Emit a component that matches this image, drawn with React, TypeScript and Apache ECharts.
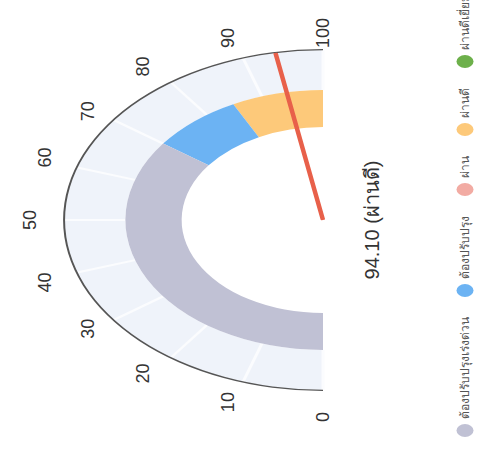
import React, { useEffect, useRef } from 'react';
import * as echarts from 'echarts';

// ---- data ----
const axisMin = 0;
const axisMax = 100;
const axisSplits = 10;
const legendNames = ['ต้องปรับปรุงเร่งด่วน', 'ต้องปรับปรุง', 'ผ่าน', 'ผ่านดี', 'ผ่านดีเยี่ยม'];
const legendColors = ['#c0c1d4', '#6cb3f3', '#f2aba3', '#fdc97a', '#6db04b'];
const bandEnds = [70, 85, 100];
const bandColors = ['#c0c1d4', '#6cb3f3', '#fdc97a'];
const gaugeValue = 94.1;
const gaugeStatus = 'ผ่านดี';

// ---- layout ----
const SX = 1.52; // horizontal stretch of the pictured gauge
const A = { w: 450, h: 316, cx: 230, cy: 212.5 };
const B = { w: 620, h: 477, cx: 230, cy: 323 };
const FONT = '"Liberation Sans", Arial, "Noto Sans", sans-serif';

const hidden = {
  pointer: { show: false },
  anchor: { show: false },
  title: { show: false },
  detail: { show: false },
  axisTick: { show: false },
  splitLine: { show: false, length: 0, distance: 0 },
  axisLabel: { show: false },
  progress: { show: false },
};

export default function App() {
  const refA = useRef<HTMLDivElement>(null);
  const refB = useRef<HTMLDivElement>(null);

  useEffect(() => {
    const a = echarts.init(refA.current!, undefined, { renderer: 'svg' });
    const b = echarts.init(refB.current!, undefined, { renderer: 'svg' });
    const base = {
      type: 'gauge',
      center: [A.cx, A.cy],
      startAngle: 180,
      endAngle: 0,
      min: axisMin,
      max: axisMax,
      splitNumber: axisSplits,
      ...hidden,
      data: [{ value: gaugeValue }],
    };
    a.setOption({
      animation: false,
      textStyle: { fontFamily: FONT },
      series: [
        {
          ...base,
          radius: 170,
          axisLine: { show: true, lineStyle: { width: 40, color: [[1, '#eff3fa']] } },
          splitLine: { show: true, length: 40, distance: -40, lineStyle: { color: '#fbfcfe', width: 2 } },
        },
        {
          ...base,
          radius: 130,
          axisLine: {
            show: true,
            lineStyle: {
              width: 37,
              color: bandEnds.map((e, i) => [(e - axisMin) / (axisMax - axisMin), bandColors[i]]),
            },
          },
        },
        {
          ...base,
          radius: 171,
          axisLine: { show: true, lineStyle: { width: 1.3, color: [[1, '#555555']] } },
          axisLabel: { show: true, distance: -31, fontSize: 18, color: '#333333', fontFamily: FONT },
        },
        {
          ...base,
          radius: 170,
          axisLine: { show: false },
          pointer: {
            show: true,
            icon: 'roundRect',
            length: '100%',
            width: 3,
            offsetCenter: [0, 0],
            itemStyle: { color: '#e8604a' },
          },
        },
      ],
    });

    const legendSeries = legendNames.map((n, i) => ({
      type: 'gauge',
      name: n,
      center: [-500, -500],
      radius: 1,
      itemStyle: { color: legendColors[i] },
      axisLine: { show: false },
      ...hidden,
      data: [],
    }));
    b.setOption({
      animation: false,
      textStyle: { fontFamily: FONT },
      legend: {
        left: 8,
        top: 451.5,
        orient: 'horizontal',
        itemWidth: 13,
        itemHeight: 17,
        itemGap: 20,
        selectedMode: false,
        symbolKeepAspect: false,
        icon: 'path://M50 0A50 50 0 1 1 50 100A50 50 0 1 1 50 0Z',
        textStyle: { fontSize: 12, color: '#555555' },
        data: legendNames.map((n, i) => ({ name: n, itemStyle: { color: legendColors[i] } })),
      },
      series: [
        ...legendSeries,
        {
          type: 'gauge',
          name: 'value',
          center: [B.cx, B.cy],
          radius: 170,
          startAngle: 180,
          endAngle: 0,
          min: axisMin,
          max: axisMax,
          ...hidden,
          axisLine: { show: false },
          detail: {
            show: true,
            offsetCenter: [0, 49],
            fontSize: 20,
            fontWeight: 'normal',
            color: '#333333',
            fontFamily: FONT,
            formatter: (v: number) => `${v.toFixed(2)} (${gaugeStatus})`,
          },
          data: [{ value: gaugeValue }],
        },
      ],
    });
    return () => {
      a.dispose();
      b.dispose();
    };
  }, []);

  return (
    <div style={{ position: 'fixed', left: 0, top: 0, width: 477, height: 450, overflow: 'hidden', background: '#fff' }}>
      <style>{`.gauge-a text { transform-box: fill-box; transform-origin: center; transform: scaleY(${(1 / SX).toFixed(4)}); }`}</style>
      <div
        ref={refA}
        className="gauge-a"
        style={{
          position: 'absolute', left: 0, top: 0, width: A.w, height: A.h,
          transformOrigin: '0 0', transform: `matrix(0, -1, ${SX}, 0, 0, 450)`,
        }}
      />
      <div
        ref={refB}
        style={{
          position: 'absolute', left: 0, top: 0, width: B.w, height: B.h,
          transformOrigin: '0 0', transform: 'matrix(0, -1, 1, 0, 0, 450)',
        }}
      />
    </div>
  );
}
